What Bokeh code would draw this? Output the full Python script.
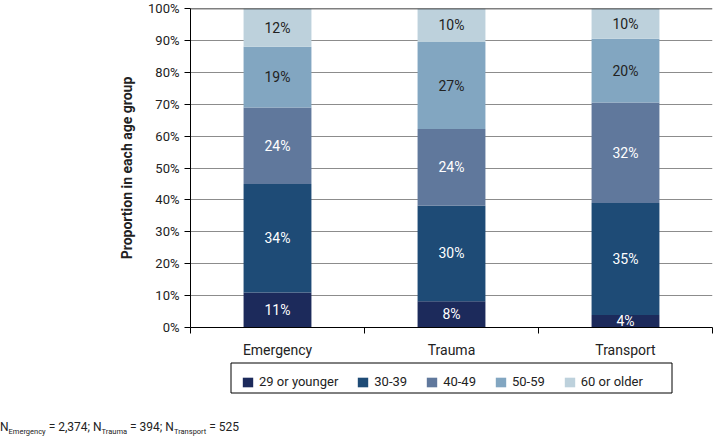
from bokeh.plotting import figure
from bokeh.layouts import column
from bokeh.models import (ColumnDataSource, Range1d, FixedTicker, PrintfTickFormatter,
                          Legend, LegendItem, Span, BoxAnnotation, Div)
from bokeh.core.properties import value
from bokeh.embed import file_html
from bokeh.resources import INLINE

# ---------------- data ----------------
categories = ["Emergency", "Trauma", "Transport"]
age_groups = ["29 or younger", "30-39", "40-49", "50-59", "60 or older"]
share_29_or_younger = [11.0, 8.2, 3.9]
share_30_39 = [34.0, 30.0, 35.1]
share_40_49 = [24.0, 24.0, 31.5]
share_50_59 = [19.0, 27.3, 20.0]
share_60_or_older = [12.0, 10.5, 9.5]
labels_29_or_younger = ["11%", "8%", "4%"]
labels_30_39 = ["34%", "30%", "35%"]
labels_40_49 = ["24%", "24%", "32%"]
labels_50_59 = ["19%", "27%", "20%"]
labels_60_or_older = ["12%", "10%", "10%"]
y_ticks = [0, 10, 20, 30, 40, 50, 60, 70, 80, 90, 100]
footnote_n = [("Emergency", "2,374"), ("Trauma", "394"), ("Transport", "525")]

# ---------------- style ----------------
colors = ["#1c2a5b", "#1e4b76", "#60789c", "#82a6c1", "#bdd1dc"]
label_colors = ["white", "white", "white", "#222222", "#222222"]
FONT = "Roboto"
TXT = "#222222"

series = [share_29_or_younger, share_30_39, share_40_49, share_50_59, share_60_or_older]
series_labels = [labels_29_or_younger, labels_30_39, labels_40_49, labels_50_59, labels_60_or_older]

xpos = [i + 0.5 for i in range(len(categories))]
data = {"x": xpos}
for g, s in zip(age_groups, series):
    data[g] = s
source = ColumnDataSource(data)

# ---------------- main chart ----------------
p = figure(width=713, height=360, output_backend="svg", toolbar_location=None,
           x_range=Range1d(0, len(categories)), y_range=Range1d(0, 100),
           min_border_left=190, min_border_right=1, min_border_top=8, min_border_bottom=32)
p.outline_line_color = None
p.background_fill_color = "white"

renderers = p.vbar_stack(age_groups, x="x", width=0.39, source=source, color=colors,
                         line_color=None)

lx, ly, lt, lc = [], [], [], []
for ci in range(len(categories)):
    base = 0.0
    for gi in range(len(age_groups)):
        v = series[gi][ci]
        lx.append(xpos[ci])
        ly.append(base + v / 2)
        lt.append(series_labels[gi][ci])
        lc.append(label_colors[gi])
        base += v
lsrc = ColumnDataSource(dict(x=lx, y=ly, text=lt, color=lc))
p.text(x="x", y="y", text="text", text_color="color", source=lsrc,
       text_align="center", text_baseline="middle",
       text_font=value(FONT), text_font_size="14px")

p.xaxis.ticker = FixedTicker(ticks=xpos, minor_ticks=list(range(len(categories) + 1)))
p.xaxis.major_label_overrides = {x: c for x, c in zip(xpos, categories)}
p.xaxis.major_tick_out = 0
p.xaxis.major_tick_in = 0
p.xaxis.minor_tick_out = 6
p.xaxis.minor_tick_in = 0
p.xaxis.minor_tick_line_color = "black"
p.xaxis.axis_line_color = "black"
p.xaxis.major_label_text_font = FONT
p.xaxis.major_label_text_font_size = "14px"
p.xaxis.major_label_text_color = TXT
p.xaxis.major_label_standoff = 8

p.yaxis.ticker = FixedTicker(ticks=y_ticks)
p.yaxis.formatter = PrintfTickFormatter(format="%d%%")
p.yaxis.major_tick_out = 6
p.yaxis.major_tick_in = 0
p.yaxis.minor_tick_line_color = None
p.yaxis.axis_line_color = "black"
p.yaxis.major_tick_line_color = "black"
p.yaxis.major_label_text_font = FONT
p.yaxis.major_label_text_font_size = "13px"
p.yaxis.major_label_text_color = TXT
p.yaxis.major_label_standoff = 5
p.yaxis.axis_label = "Proportion in each age group"
p.yaxis.axis_label_text_font = FONT
p.yaxis.axis_label_text_font_size = "14px"
p.yaxis.axis_label_text_font_style = "bold"
p.yaxis.axis_label_text_color = TXT
p.yaxis.axis_label_standoff = 10

p.xgrid.visible = False
p.ygrid.ticker = FixedTicker(ticks=y_ticks)
p.ygrid.grid_line_color = "#8c8c8c"
p.ygrid.grid_line_width = 1

p.add_layout(Span(location=100, dimension="width", line_color="black", line_width=1.5))

# ---------------- legend strip ----------------
H2 = 45
p2 = figure(width=713, height=H2, output_backend="svg", toolbar_location=None,
            x_range=Range1d(190, 712), y_range=Range1d(0, H2),
            x_axis_type=None, y_axis_type=None,
            min_border_left=190, min_border_right=1, min_border_top=0, min_border_bottom=0)
p2.outline_line_color = None
p2.background_fill_color = "white"

p2.add_layout(BoxAnnotation(left=230.5, right=671.5, bottom=12.5, top=42.5,
                            fill_color="white", fill_alpha=1.0,
                            line_color="black", line_alpha=1.0, line_width=1))

# legend-only swatch renderers (a single NaN row so nothing is drawn in the strip)
swatch_src = ColumnDataSource(dict(x=[float("nan")], top=[float("nan")]))
swatches = [p2.vbar(x="x", top="top", width=1, source=swatch_src, color=c, line_color=None)
            for c in colors]
legend = Legend(items=[LegendItem(label=g, renderers=[r]) for g, r in zip(age_groups, swatches)],
                orientation="horizontal", location=(51, 16),
                border_line_color=None, background_fill_alpha=0.0,
                label_text_font=FONT, label_text_font_size="13px", label_text_color=TXT,
                glyph_width=13, glyph_height=12, label_height=12, label_standoff=5,
                spacing=18, padding=8, margin=0)
p2.add_layout(legend, "center")

# ---------------- footnote ----------------
sub_style = "font-size:7.5px;position:relative;top:3px;"
parts = []
for name, n in footnote_n:
    parts.append('N<span style="%s">%s</span> = %s' % (sub_style, name, n))
footnote_html = "; ".join(parts)
note = Div(text=footnote_html, width=713, height=32, margin=(0, 0, 0, 0),
           styles={"font-family": FONT, "font-size": "12px", "color": TXT,
                   "line-height": "14px", "padding-top": "15px", "white-space": "nowrap",
                   "box-sizing": "border-box"})

layout = column(p, p2, note, spacing=0)
open("out.html", "w").write(file_html(layout, INLINE))
